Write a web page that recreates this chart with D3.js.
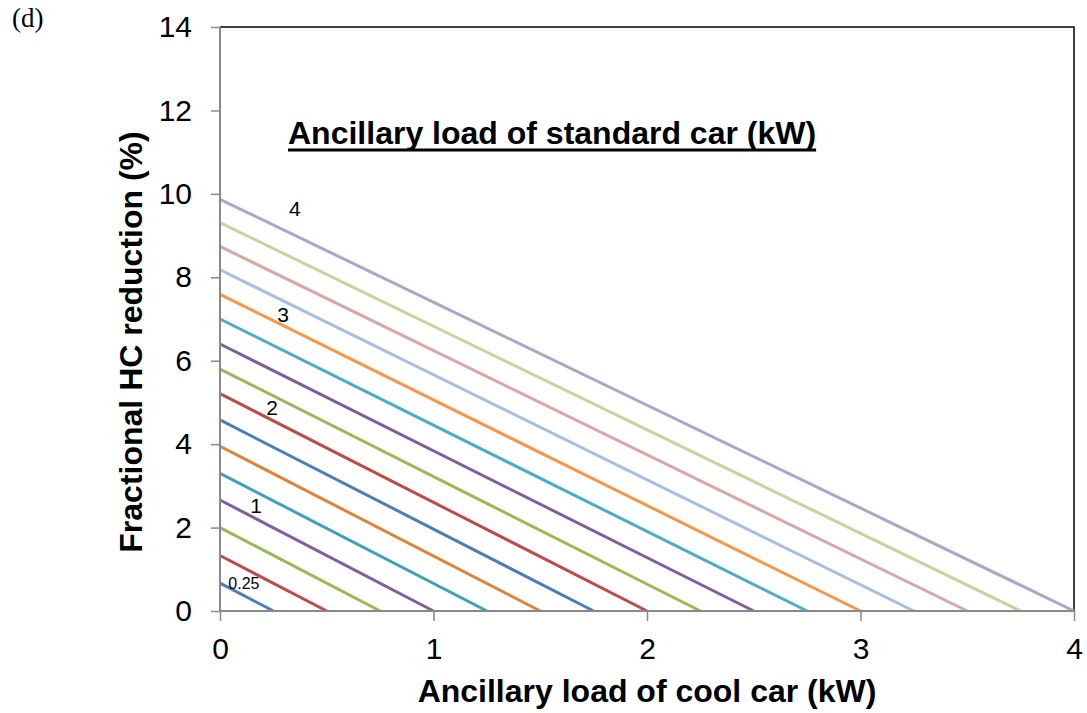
<!DOCTYPE html>
<html>
<head>
<meta charset="utf-8">
<script src="https://cdn.jsdelivr.net/npm/d3@7"></script>
<style>
  html, body { margin: 0; padding: 0; background: #fff; }
  svg { display: block; }
</style>
</head>
<body>
<svg id="chart" width="1087" height="713"></svg>
<script>
// ---- data ----
const standardLoad = [0.25, 0.5, 0.75, 1, 1.25, 1.5, 1.75, 2, 2.25, 2.5, 2.75, 3, 3.25, 3.5, 3.75, 4];
const coolLoadAtZero = [0.25, 0.5, 0.75, 1, 1.25, 1.5, 1.75, 2, 2.25, 2.5, 2.75, 3, 3.25, 3.5, 3.75, 4];
const reductionAtZeroCool = [0.67, 1.33, 2.00, 2.66, 3.30, 3.95, 4.58, 5.21, 5.80, 6.40, 7.00, 7.59, 8.18, 8.74, 9.31, 9.87];
const seriesColors = ["#4A7EBB", "#BE4B48", "#98B954", "#7D60A0", "#3FA0B9", "#DD8436",
                      "#4A7EBB", "#BE4B48", "#98B954", "#7D60A0", "#4BACC6", "#F79646",
                      "#A7BFDE", "#D8A6A5", "#C3D69B", "#B3A2C7"];
const xTicks = [0, 1, 2, 3, 4];
const yTicks = [0, 2, 4, 6, 8, 10, 12, 14];
const labelText = ["0.25", "1", "2", "3", "4"];
const labelX = [0.112, 0.169, 0.244, 0.295, 0.351];
const labelY = [0.65, 2.52, 4.87, 7.10, 9.64];

// ---- layout ----
const svg = d3.select("#chart");
const mL = 220, mR = 1074, mT = 27, mB = 611;
const x = d3.scaleLinear().domain([0, 4]).range([mL, mR]);
const y = d3.scaleLinear().domain([0, 14]).range([mB, mT]);
const axisGrey = "#898989";
const font = "'Liberation Sans', Arial, sans-serif";

// plot border (top & right black)
svg.append("path")
  .attr("d", `M${mL},${mT}H${mR}V${mB}`)
  .attr("fill", "none").attr("stroke", "#000").attr("stroke-width", 1.5);

// series lines
const lineGen = d3.line().x(d => x(d[0])).y(d => y(d[1]));
const series = standardLoad.map((s, i) => ({
  key: s,
  pts: [[0, reductionAtZeroCool[i]], [coolLoadAtZero[i], 0]],
  color: seriesColors[i]
}));
svg.append("g").selectAll("path").data(series).join("path")
  .attr("d", d => lineGen(d.pts))
  .attr("fill", "none")
  .attr("stroke", d => d.color)
  .attr("stroke-width", 3);

// axes
const yAxis = d3.axisLeft(y).tickValues(yTicks).tickSize(9).tickPadding(19).tickFormat(d3.format("d"));
const xAxis = d3.axisBottom(x).tickValues(xTicks).tickSize(10).tickPadding(17).tickFormat(d3.format("d"));

const gy = svg.append("g").attr("transform", `translate(${mL},0)`).call(yAxis);
const gx = svg.append("g").attr("transform", `translate(0,${mB})`).call(xAxis);
[gx, gy].forEach(g => {
  g.select(".domain").attr("stroke", axisGrey).attr("stroke-width", 2);
  g.selectAll(".tick line").attr("stroke", axisGrey).attr("stroke-width", 1.5);
  g.selectAll(".tick text").attr("fill", "#000").style("font-family", font).style("font-size", "30px");
});
gy.select(".domain").attr("d", `M-0,${mT}V${mB}`);
gx.select(".domain").attr("d", `M${mL},0H${mR}`);

// in-plot labels
svg.append("g").selectAll("text").data(labelText).join("text")
  .attr("x", (d, i) => x(labelX[i]))
  .attr("y", (d, i) => y(labelY[i]))
  .attr("text-anchor", "middle")
  .attr("dominant-baseline", "central")
  .style("font-family", font)
  .style("font-size", d => d === "0.25" ? "16px" : "21px")
  .text(d => d);

// title in plot with thick underline
const title = svg.append("text")
  .attr("x", 288).attr("y", 144)
  .style("font-family", font).style("font-size", "32px").style("font-weight", "bold")
  .text("Ancillary load of standard car (kW)");
const tw = title.node().getComputedTextLength();
svg.append("line")
  .attr("x1", 288).attr("x2", 288 + tw)
  .attr("y1", 150).attr("y2", 150)
  .attr("stroke", "#000").attr("stroke-width", 3);

// axis titles
svg.append("text")
  .attr("x", 647).attr("y", 702)
  .attr("text-anchor", "middle")
  .style("font-family", font).style("font-size", "32px").style("font-weight", "bold")
  .text("Ancillary load of cool car (kW)");

svg.append("text")
  .attr("transform", `translate(142,342) rotate(-90)`)
  .attr("text-anchor", "middle")
  .style("font-family", font).style("font-size", "32px").style("font-weight", "bold")
  .text("Fractional HC reduction (%)");

// panel tag
svg.append("text")
  .attr("x", 12).attr("y", 27)
  .style("font-family", "'Liberation Serif', 'Times New Roman', serif").style("font-size", "27px")
  .text("(d)");
</script>
</body>
</html>
